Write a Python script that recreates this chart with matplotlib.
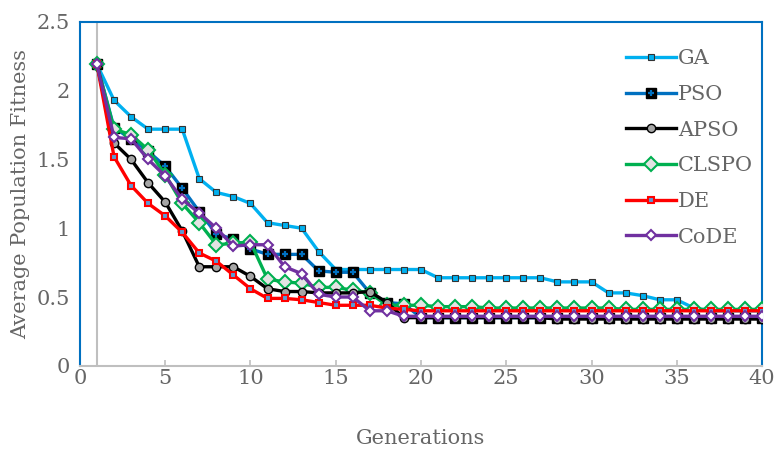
import matplotlib
matplotlib.use('Agg')
import matplotlib.pyplot as plt
import numpy as np

# generations 1..40
gens = np.arange(1, 41)

ga = [2.19, 1.93, 1.81, 1.72, 1.72, 1.72, 1.36, 1.26, 1.23, 1.18,
      1.04, 1.02, 1.00, 0.83, 0.70, 0.70, 0.70, 0.70, 0.70, 0.70,
      0.64, 0.64, 0.64, 0.64, 0.64, 0.64, 0.64, 0.61, 0.61, 0.61,
      0.53, 0.53, 0.51, 0.48, 0.48, 0.42, 0.40, 0.40, 0.40, 0.40]
pso = [2.19, 1.73, 1.65, 1.56, 1.45, 1.29, 1.12, 0.96, 0.92, 0.85,
       0.81, 0.81, 0.81, 0.69, 0.68, 0.68, 0.53, 0.46, 0.45, 0.35,
       0.35, 0.35, 0.35, 0.35, 0.35, 0.35, 0.35, 0.35, 0.35, 0.35,
       0.35, 0.35, 0.35, 0.35, 0.35, 0.35, 0.35, 0.35, 0.35, 0.35]
apso = [2.19, 1.62, 1.50, 1.33, 1.19, 0.98, 0.72, 0.72, 0.72, 0.65,
        0.56, 0.54, 0.54, 0.53, 0.53, 0.53, 0.54, 0.46, 0.35, 0.35,
        0.35, 0.35, 0.35, 0.35, 0.35, 0.35, 0.35, 0.34, 0.34, 0.34,
        0.34, 0.34, 0.34, 0.34, 0.34, 0.34, 0.34, 0.34, 0.34, 0.34]
clspo = [2.19, 1.72, 1.68, 1.57, 1.39, 1.18, 1.04, 0.88, 0.89, 0.90,
         0.63, 0.61, 0.60, 0.57, 0.57, 0.55, 0.53, 0.44, 0.44, 0.44,
         0.43, 0.43, 0.43, 0.42, 0.42, 0.42, 0.42, 0.42, 0.42, 0.42,
         0.42, 0.41, 0.41, 0.41, 0.41, 0.41, 0.41, 0.41, 0.41, 0.41]
de = [2.19, 1.52, 1.31, 1.18, 1.09, 0.97, 0.82, 0.76, 0.66, 0.56,
      0.49, 0.49, 0.48, 0.46, 0.44, 0.44, 0.44, 0.42, 0.41, 0.40,
      0.40, 0.40, 0.40, 0.40, 0.40, 0.40, 0.40, 0.40, 0.40, 0.40,
      0.40, 0.40, 0.40, 0.40, 0.40, 0.40, 0.40, 0.40, 0.40, 0.40]
code = [2.19, 1.66, 1.65, 1.50, 1.38, 1.21, 1.11, 1.00, 0.87, 0.88,
        0.88, 0.72, 0.67, 0.52, 0.50, 0.50, 0.40, 0.40, 0.36, 0.36,
        0.36, 0.36, 0.36, 0.36, 0.36, 0.36, 0.36, 0.36, 0.36, 0.36,
        0.36, 0.36, 0.36, 0.36, 0.36, 0.36, 0.36, 0.36, 0.36, 0.36]

TXT = '#666666'
FS = 15
plt.rcParams['font.family'] = ['DejaVu Serif']

fig = plt.figure(figsize=(7.76, 4.55), dpi=100)
ax = fig.add_axes([0.103, 0.196, 0.879, 0.756])

lw = 2.4
h_ga, = ax.plot(gens, ga, color='#00B0F0', lw=lw, marker='s', ms=4.5,
                mfc='#00B0F0', mec='#333333', mew=0.8, label='GA', zorder=3)
h_pso, = ax.plot(gens, pso, color='#0070C0', lw=lw, marker='s', ms=6.5,
                 mfc='black', mec='black', zorder=4)
h_pso2, = ax.plot(gens, pso, ls='none', marker='+', ms=5, mec='#0070C0', mew=1.6, zorder=4)
h_apso, = ax.plot(gens, apso, color='black', lw=lw, marker='o', ms=6,
                  mfc='#A6A6A6', mec='black', mew=1.0, zorder=5)
h_cl, = ax.plot(gens, clspo, color='#00B050', lw=lw, marker='D', ms=7,
                mfc='#E3E3E3', mec='#00B050', mew=1.5, zorder=4)
h_de, = ax.plot(gens, de, color='#FF0000', lw=lw, marker='s', ms=5,
                mfc='#5B9BD5', mec='#FF0000', mew=1.5, zorder=5)
h_code, = ax.plot(gens, code, color='#7030A0', lw=lw, marker='D', ms=5.5,
                  mfc='white', mec='#7030A0', mew=1.5, zorder=6)

ax.axvline(1, color='#BFBFBF', lw=1.5, zorder=1)

ax.set_xlim(0, 40)
ax.set_ylim(0, 2.5)
ax.set_xticks(range(0, 41, 5))
ax.set_yticks([0, 0.5, 1, 1.5, 2, 2.5])
ax.set_yticklabels(['0', '0.5', '1', '1.5', '2', '2.5'])

for s in ['left', 'top', 'right']:
    ax.spines[s].set_color('#0070C0')
    ax.spines[s].set_linewidth(1.5)
ax.spines['bottom'].set_color('#BFBFBF')
ax.spines['bottom'].set_linewidth(1.5)

ax.tick_params(axis='x', direction='in', length=4, color='#BFBFBF', width=1.2,
               labelsize=FS, labelcolor=TXT, pad=2)
ax.tick_params(axis='y', length=0, labelsize=FS, labelcolor=TXT, pad=7)

ax.set_xlabel('Generations', fontsize=FS, color=TXT, labelpad=30)
ax.set_ylabel('Average Population Fitness', fontsize=FS, color=TXT, labelpad=5)

handles = [h_ga, (h_pso, h_pso2), h_apso, h_cl, h_de, h_code]
labels = ['GA', 'PSO', 'APSO', 'CLSPO', 'DE', 'CoDE']
leg = ax.legend(handles, labels, loc='upper right', bbox_to_anchor=(1.014, 0.975),
                frameon=False, fontsize=FS, handlelength=2.4, handletextpad=0.1,
                labelspacing=0.8, labelcolor=TXT)

fig.savefig('out.png', dpi=100)
